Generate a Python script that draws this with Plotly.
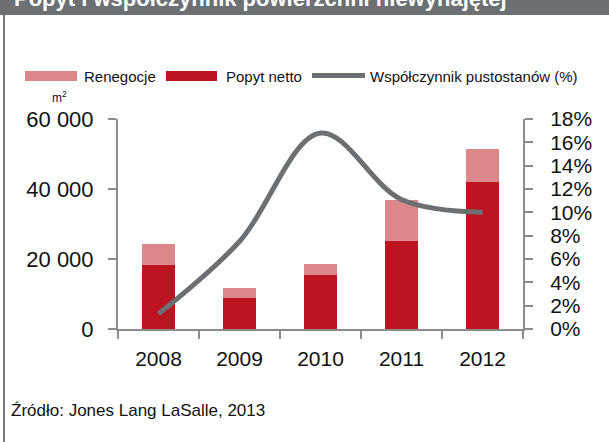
import plotly.graph_objects as go

# ---- data ----
years = ["2008", "2009", "2010", "2011", "2012"]
popyt_netto = [18300, 9000, 15500, 25200, 42100]
renegocje = [6000, 2600, 3000, 11600, 9400]
pustostany = [1.3, 7.5, 16.8, 11.1, 10.0]

left_tickvals = [0, 20000, 40000, 60000]
left_ticktext = ["0", "20 000", "40 000", "60 000"]
right_tickvals = [0, 2, 4, 6, 8, 10, 12, 14, 16, 18]
right_ticktext = ["0%", "2%", "4%", "6%", "8%", "10%", "12%", "14%", "16%", "18%"]

title_text = "Popyt i współczynnik powierzchni niewynajętej"
source_text = "Źródło: Jones Lang LaSalle, 2013"
legend_names = ["Renegocje", "Popyt netto", "Współczynnik pustostanów (%)"]

# ---- style ----
W, H = 609, 442
L, R, T, B = 118, 86, 119, 113
PW, PH = W - L - R, H - T - B

def px(x):
    return (x - L) / PW

def py(y):
    return (H - B - y) / PH

C_NETTO = "#BD1520"
C_RENEG = "#DC888B"
C_LINE = "#6D7073"
C_AXIS = "#8C8C8C"
REG = "Liberation Sans, Arial, sans-serif"

fig = go.Figure()
fig.add_trace(go.Bar(x=years, y=popyt_netto, name=legend_names[1],
                     marker=dict(color=C_NETTO, line=dict(width=0))))
fig.add_trace(go.Bar(x=years, y=renegocje, name=legend_names[0],
                     marker=dict(color=C_RENEG, line=dict(width=0))))
fig.add_trace(go.Scatter(x=years, y=pustostany, name=legend_names[2], yaxis="y2",
                         mode="lines", line=dict(color=C_LINE, width=5, shape="spline", smoothing=1)))

axis_common = dict(showline=True, linecolor=C_AXIS, linewidth=2, ticks="outside",
                   ticklen=8, tickcolor=C_AXIS, tickwidth=2, showgrid=False, zeroline=False,
                   automargin=False)

fig.update_layout(
    width=W, height=H,
    margin=dict(l=L, r=R, t=T, b=B, pad=0),
    paper_bgcolor="white", plot_bgcolor="white",
    barmode="stack", bargap=0.6,
    showlegend=False,
    xaxis=dict(type="category", tickson="boundaries", ticklabelstandoff=10,
               tickfont=dict(family=REG, size=21, color="#111111"), **axis_common),
    yaxis=dict(range=[0, 60000], tickvals=left_tickvals, ticktext=left_ticktext,
               ticklabelstandoff=10, tickfont=dict(family=REG, size=22, color="#111111"),
               **axis_common),
    yaxis2=dict(range=[0, 18], overlaying="y", side="right", tickvals=right_tickvals,
                ticktext=right_ticktext, ticklabelstandoff=13,
                tickfont=dict(family=REG, size=21, color="#111111"), **axis_common),
)

shapes = []
# banner
shapes.append(dict(type="rect", xref="paper", yref="paper", x0=px(0), x1=px(W), y0=py(15), y1=py(0),
                   fillcolor="#6D7073", line=dict(width=0), layer="below"))
# left border
shapes.append(dict(type="line", xref="paper", yref="paper", x0=px(4), x1=px(4), y0=py(15), y1=py(H),
                   line=dict(color="#7A7A7A", width=2)))
# legend swatches
shapes.append(dict(type="rect", xref="paper", yref="paper", x0=px(25), x1=px(77), y0=py(81), y1=py(71),
                   fillcolor=C_RENEG, line=dict(width=0)))
shapes.append(dict(type="rect", xref="paper", yref="paper", x0=px(166), x1=px(217), y0=py(81), y1=py(71),
                   fillcolor=C_NETTO, line=dict(width=0)))
shapes.append(dict(type="line", xref="paper", yref="paper", x0=px(312), x1=px(365), y0=py(75.5), y1=py(75.5),
                   line=dict(color=C_LINE, width=5)))
fig.update_layout(shapes=shapes)

ann = []
ann.append(dict(text="<b>" + title_text + "</b>", xref="paper", yref="paper", x=px(12), y=py(13),
                xanchor="left", yanchor="bottom", showarrow=False,
                font=dict(family=REG, size=22, color="white")))
for xpos, txt in [(82, legend_names[0]), (224, legend_names[1]), (368, legend_names[2])]:
    ann.append(dict(text=txt, xref="paper", yref="paper", x=px(xpos), y=py(76.5),
                    xanchor="left", yanchor="middle", showarrow=False,
                    font=dict(family=REG, size=15, color="#111111")))
ann.append(dict(text="m<sup>2</sup>", xref="paper", yref="paper", x=px(59), y=py(97),
                xanchor="center", yanchor="middle", showarrow=False,
                font=dict(family=REG, size=12, color="#111111")))
ann.append(dict(text=source_text, xref="paper", yref="paper", x=px(9), y=py(410),
                xanchor="left", yanchor="middle", showarrow=False,
                font=dict(family=REG, size=17, color="#111111")))
fig.update_layout(annotations=ann)

fig.write_html("out.html", config={"displayModeBar": False},
               post_script="document.body.style.margin='0';")
